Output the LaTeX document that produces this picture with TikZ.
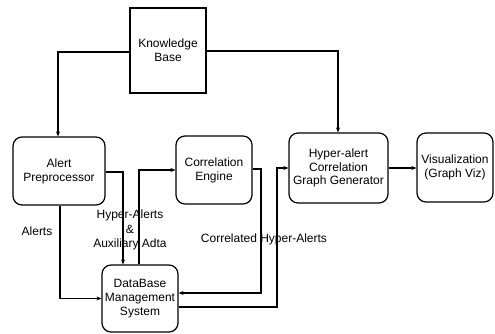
\documentclass[tikz,border=0pt]{standalone}
\usepackage{fontspec}
\setmainfont{Liberation Sans}
\usetikzlibrary{arrows.meta}
\begin{document}
\begin{tikzpicture}[x=1pt,y=-1pt,
  box/.style={draw,line width=1.2pt,rounded corners=9pt,align=center,inner sep=1pt,
    font=\fontsize{12}{13.8}\selectfont},
  sqbox/.style={box,rounded corners=0pt},
  conn/.style={line width=1.2pt,-{Stealth[length=5pt,width=4pt]}},
  lbl/.style={align=center,inner sep=0pt,font=\fontsize{12}{14.5}\selectfont}]
\useasboundingbox (0,0) rectangle (495,333);
\node[sqbox,minimum width=76pt,minimum height=85pt] (kb) at (168,50.5) {Knowledge\\Base};
\node[box,minimum width=92pt,minimum height=68pt] (ap) at (59,171) {Alert\\Preprocessor};
\node[box,minimum width=76pt,minimum height=68pt] (ce) at (214,170) {Correlation\\Engine};
\node[box,minimum width=99pt,minimum height=70pt] (ha) at (338.5,168) {Hyper-alert\\Correlation\\Graph Generator};
\node[box,minimum width=76pt,minimum height=69pt] (vz) at (455,167.5) {Visualization\\(Graph Viz)};
\node[box,minimum width=76pt,minimum height=67pt] (db) at (140,298.5) {DataBase\\Management\\System};
\coordinate (k1) at (58,52);
\coordinate (k2) at (338,51);
\coordinate (a1) at (123,172);
\coordinate (d1) at (139,170);
\coordinate (c1) at (261,169);
\coordinate (c2) at (261,293);
\coordinate (d2) at (277,307);
\coordinate (h1) at (277,168);
\draw[conn] (kb.west |- k1) -- (k1) -- (k1 |- ap.north);
\draw[conn] (kb.east |- k2) -- (k2) -- (k2 |- ha.north);
\draw[conn] (ap.south -| 60,0) |- (db.west);
\draw[conn] (ap.east |- a1) -- (a1) -- (a1 |- db.north);
\draw[conn] (db.north -| d1) -- (d1) -- (d1 -| ce.west);
\draw[conn] (ce.east |- c1) -- (c1) -- (c2) -- (c2 -| db.east);
\draw[conn] (db.east |- d2) -- (d2) -- (h1) -- (h1 -| ha.west);
\draw[conn] (ha.east |- 0,168) -- (vz.west |- 0,168);
\node[lbl] (l1) at (37,231) {Alerts};
\node[lbl] (l2) at (130,230) {Hyper-Alerts\\\&\\Auxiliary Adta};
\node[lbl] (l3) at (264,239) {Correlated Hyper-Alerts};
\end{tikzpicture}
\end{document}
